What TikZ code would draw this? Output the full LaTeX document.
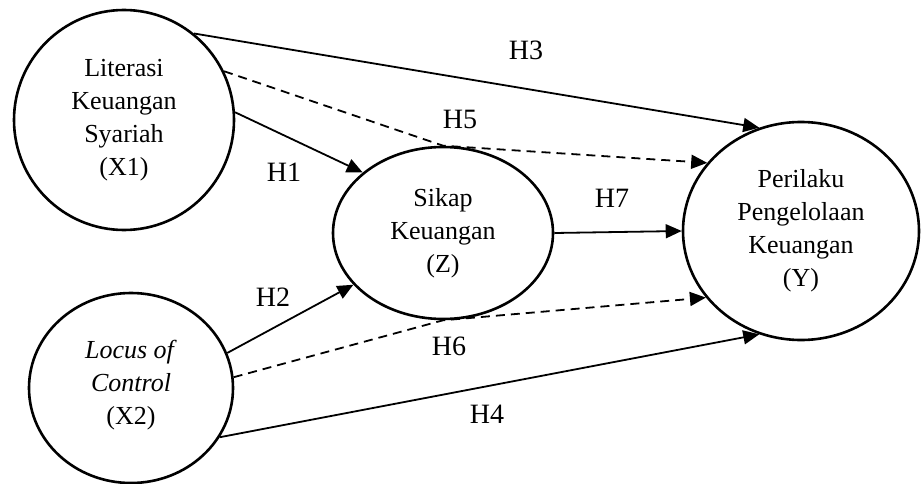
\documentclass[tikz,border=0pt]{standalone}
\usepackage{fontspec}
\setmainfont{Liberation Serif}
\usetikzlibrary{shapes.geometric,arrows.meta}
\begin{document}
\begin{tikzpicture}[x=1pt,y=-1pt,
  construct/.style={ellipse, draw, line width=2.6pt, inner sep=0pt, align=center,
    font=\fontsize{26}{33}\selectfont},
  arrowline/.style={line width=1.8pt, -{Triangle[length=16pt,width=14pt]}},
  dashline/.style={arrowline, dash pattern=on 9pt off 6pt},
  hyp/.style={font=\fontsize{28}{33}\selectfont, inner sep=0pt}]
\useasboundingbox (0,0) rectangle (923,484);

% latent constructs
\node[construct, minimum width=220pt, minimum height=220pt] (x1) at (124,120)
  {Literasi\\Keuangan\\Syariah\\(X1)};
\node[construct, minimum width=204pt, minimum height=190pt] (x2) at (131,388)
  {\textit{Locus of}\\\textit{Control}\\(X2)\rule[-12pt]{0pt}{0pt}};
\node[construct, minimum width=220pt, minimum height=172pt] (z) at (443,233)
  {Sikap\\Keuangan\\(Z)};
\node[construct, minimum width=236pt, minimum height=218pt] (y) at (801,231)
  {Perilaku\\Pengelolaan\\Keuangan\\(Y)};

% direct paths
\draw[arrowline] (x1.51) -- (y.112);
\draw[arrowline] (x1.4) -- (z.143);
\draw[arrowline] (x2.20) -- (z.210);
\draw[arrowline] (x2.-29) -- (y.248);
\draw[arrowline] (z.east) -- (y.west);

% mediated paths through Z
\draw[dashline] (x1.26) -- (z.north) -- (y.144);
\draw[dashline] (x2.6) -- (z.south) -- (y.215);

% hypothesis labels
\node[hyp] (h3) at (526,50) {H3};
\node[hyp] (h5) at (460,119) {H5};
\node[hyp] (h1) at (284,172) {H1};
\node[hyp] (h7) at (612,198) {H7};
\node[hyp] (h2) at (273,297) {H2};
\node[hyp] (h6) at (449,346) {H6};
\node[hyp] (h4) at (487,414) {H4};
\end{tikzpicture}
\end{document}
